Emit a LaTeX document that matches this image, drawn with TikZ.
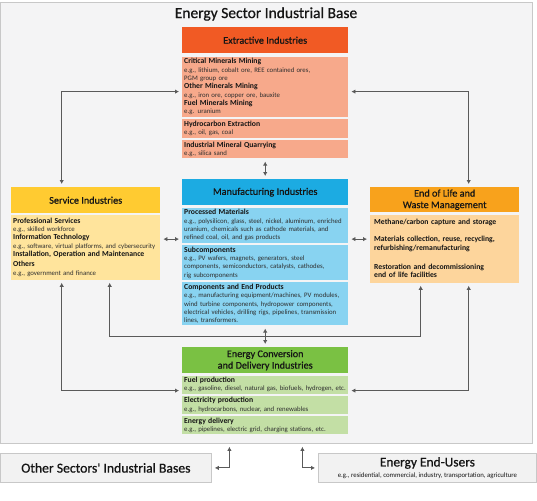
\documentclass[tikz,border=0pt]{standalone}
\usepackage{fontspec}
\setmainfont{Carlito}
\newfontfamily\medfont{Carlito}[FakeBold=0.7]
\usepackage{tikz}
\usetikzlibrary{positioning,arrows.meta,calc}
\definecolor{ink}{HTML}{151515}
\definecolor{ink2}{HTML}{2E2E2E}
\definecolor{wire}{HTML}{5A5A5A}
\definecolor{extr}{HTML}{F15A24}
\definecolor{extrl}{HTML}{F7A98B}
\definecolor{manu}{HTML}{1CABE2}
\definecolor{manul}{HTML}{88D3F1}
\definecolor{serv}{HTML}{FFCB31}
\definecolor{servl}{HTML}{FFE49C}
\definecolor{waste}{HTML}{F8A21C}
\definecolor{wastel}{HTML}{FDD59C}
\definecolor{conv}{HTML}{7AC143}
\definecolor{convl}{HTML}{C3DFA5}
\definecolor{basebg}{HTML}{F4F4F5}
\definecolor{outbg}{HTML}{F2F2F2}
\definecolor{baseln}{HTML}{C8C8C8}
\newcommand{\hdg}[1]{{\color{ink}\bfseries\fontsize{7.7}{8.3}\selectfont #1}}
\tikzset{
  hd/.style={fill=#1, minimum width=166pt, minimum height=26pt, inner sep=2pt, align=center, font=\medfont\fontsize{10.2}{11.5}\selectfont, text=ink},
  sub/.style={fill=#1, text width=162pt, inner xsep=2pt, inner ysep=1.5pt, align=left, font=\fontsize{6.8}{8.3}\selectfont, text=ink2},
  dbl/.style={{Latex[length=4pt,width=4.5pt]}-{Latex[length=4pt,width=4.5pt]}, line width=1.1pt, wire, shorten <=3pt, shorten >=3pt},
  outbox/.style={fill=outbg, draw=baseln, line width=0.8pt, minimum height=29pt, inner sep=2pt, align=center, text=ink},
}
\begin{document}
\begin{tikzpicture}[x=1pt, y=-1pt]
  \useasboundingbox (0,0) rectangle (537,500);
  % the base frame and its title
  \node[fill=basebg, draw=baseln, line width=0.8pt, minimum width=532pt, minimum height=441pt, inner sep=0pt, anchor=north west] (base) at (0,2) {};
  \node[font=\medfont\fontsize{15.5}{17}\selectfont, text=ink] (ttl) at (266,14) {Energy Sector Industrial Base};
  % extractive column
  \node[hd=extr, anchor=north west] (ext) at (182,27) {Extractive Industries};
  \node[sub=extrl, below=3pt of ext, minimum height=60pt] (ext1) {\hdg{Critical Minerals Mining}\\ e.g., lithium, cobalt ore, REE contained ores,\\ PGM group ore\\ \hdg{Other Minerals Mining}\\ e.g., iron ore, copper ore, bauxite\\ \hdg{Fuel Minerals Mining}\\ e.g. uranium};
  \node[sub=extrl, below=2pt of ext1, minimum height=19pt] (ext2) {\hdg{Hydrocarbon Extraction}\\ e.g., oil, gas, coal};
  \node[sub=extrl, below=2pt of ext2, minimum height=18pt] (ext3) {\hdg{Industrial Mineral Quarrying}\\ e.g., silica sand};
  % manufacturing column
  \node[hd=manu, anchor=north west] (man) at (182,179) {Manufacturing Industries};
  \node[sub=manul, below=2pt of man, minimum height=35pt] (man1) {\hdg{Processed Materials}\\ e.g., polysilicon, glass, steel, nickel, aluminum, enriched\\ uranium, chemicals such as cathode materials, and\\ refined coal, oil, and gas products};
  \node[sub=manul, below=2pt of man1, minimum height=35pt] (man2) {\hdg{Subcomponents}\\ e.g., PV wafers, magnets, generators, steel\\ components, semiconductors, catalysts, cathodes,\\ rig subcomponents};
  \node[sub=manul, below=2pt of man2, minimum height=43pt] (man3) {\hdg{Components and End Products}\\ e.g., manufacturing equipment/machines, PV modules,\\ wind turbine components, hydropower components,\\ electrical vehicles, drilling rigs, pipelines, transmission\\ lines, transformers.};
  % energy conversion column
  \node[hd=conv, anchor=north west] (ecd) at (182,347) {Energy Conversion\\and Delivery Industries};
  \node[sub=convl, below=2pt of ecd, minimum height=18pt] (ecd1) {\hdg{Fuel production}\\ e.g., gasoline, diesel, natural gas, biofuels, hydrogen, etc.};
  \node[sub=convl, below=2pt of ecd1, minimum height=18pt] (ecd2) {\hdg{Electricity production}\\ e.g., hydrocarbons, nuclear, and renewables};
  \node[sub=convl, below=2pt of ecd2, minimum height=18pt] (ecd3) {\hdg{Energy delivery}\\ e.g., pipelines, electric grid, charging stations, etc.};
  % service and end of life
  \node[hd=serv, anchor=north west, minimum width=149pt] (srv) at (11,187) {Service Industries};
  \node[sub=servl, below=1pt of srv, text width=145pt, minimum height=65pt] (srv1) {\hdg{Professional Services}\\ e.g., skilled workforce\\ \hdg{Information Technology}\\ e.g., software, virtual platforms, and cybersecurity\\ \hdg{Installation, Operation and Maintenance}\\[2pt] \hdg{Others}\\ e.g., government and finance};
  \node[hd=waste, anchor=north west, minimum width=149pt, minimum height=25pt] (eol) at (370,187) {End of Life and\\Waste Management};
  \node[sub=wastel, below=2pt of eol, text width=141pt, inner xsep=4pt, minimum height=68pt, font=\bfseries\fontsize{7.7}{8.3}\selectfont, text=ink] (eol1) {Methane/carbon capture and storage\\[9pt] Materials collection, reuse, recycling,\\ refurbishing/remanufacturing\\[11pt] Restoration and decommissioning\\ end of life facilities};
  % outside the base
  \node[outbox, anchor=north west, minimum width=211pt, font=\medfont\fontsize{13.7}{15}\selectfont] (oth) at (0,453) {Other Sectors' Industrial Bases};
  \node[outbox, anchor=north west, minimum width=218pt, font=\fontsize{6.8}{11}\selectfont] (usr) at (318,453) {{\medfont\fontsize{13.4}{14}\selectfont Energy End-Users}\\ e.g., residential, commercial, industry, transportation, agriculture};
  % connectors
  \coordinate (lvl) at ([yshift=8pt]srv1.east);
  \coordinate (mid) at ($(man3.south)!0.5!(ecd.north)$);
  \draw[dbl] ([xshift=-24pt]srv.north) |- ([yshift=-5pt]ext1.west);
  \draw[dbl] ([yshift=-5pt]ext1.east) -| ([xshift=24pt]eol.north);
  \draw[dbl] (lvl) -- (lvl -| man1.west);
  \draw[dbl] (lvl -| man1.east) -- (lvl -| eol1.west);
  \foreach \a/\b in {ext3/man,man3/ecd} \draw[dbl] (\a.south) -- (\b.north);
  \draw[dbl] ([xshift=24pt]srv1.south) |- (mid) -| ([xshift=-24pt]eol1.south);
  \draw[dbl] ([xshift=-24pt]srv1.south) |- ([yshift=-6pt]ecd1.west);
  \draw[dbl] ([xshift=24pt]eol1.south) |- ([yshift=-6pt]ecd1.east);
  \draw[dbl] ([xshift=-37pt]base.south) |- (oth.east);
  \draw[dbl] ([xshift=36pt]base.south) |- (usr.west);
\end{tikzpicture}
\end{document}
